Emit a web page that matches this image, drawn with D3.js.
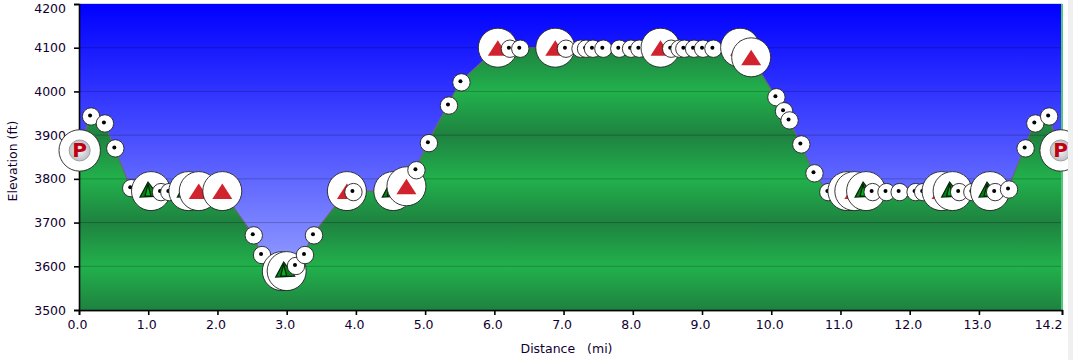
<!DOCTYPE html>
<html>
<head>
<meta charset="utf-8">
<script src="https://cdn.jsdelivr.net/npm/d3@7"></script>
<style>
  html, body { margin: 0; padding: 0; background: #fff; overflow: hidden; }
  #chart { width: 1073px; height: 360px; }
  text { font-family: "DejaVu Sans", sans-serif; font-size: 12.5px; fill: #100030; }
</style>
</head>
<body>
<div id="chart"></div>
<script>
// waypoints along the trail
const distances = [0.01, 0.16, 0.36, 0.51, 0.74, 1.04, 1.17, 1.29, 1.58, 1.73, 2.07, 2.51, 2.63, 2.93, 3.0, 3.12, 3.25, 3.38,
  3.87, 3.95, 4.54, 4.73, 4.86, 5.04, 5.33, 5.51, 6.05, 6.21, 6.36, 6.88, 7.02, 7.23, 7.31, 7.41, 7.56, 7.79, 7.96, 8.08,
  8.4, 8.54, 8.66, 8.73, 8.87, 9.0, 9.15, 9.55, 9.71, 10.06, 10.17, 10.25, 10.42, 10.61, 10.81, 11.1, 11.2, 11.37, 11.45,
  11.65, 11.84, 12.07, 12.18, 12.46, 12.62, 12.7, 12.89, 13.16, 13.22, 13.42, 13.66, 13.8, 14.0, 14.18];
const elevations = [3865, 3945, 3929, 3872, 3781, 3772, 3772, 3772, 3772, 3772, 3772, 3673, 3628, 3589, 3589, 3603, 3628, 3673,
  3772, 3772, 3772, 3783, 3822, 3884, 3970, 4023, 4100, 4100, 4100, 4100, 4100, 4100, 4100, 4100, 4100, 4100, 4100, 4100,
  4100, 4100, 4100, 4100, 4100, 4100, 4100, 4100, 4078, 3989, 3957, 3936, 3881, 3815, 3772, 3772, 3772, 3772, 3772,
  3772, 3772, 3772, 3772, 3772, 3772, 3772, 3772, 3772, 3772, 3778, 3872, 3929, 3945, 3865];
// d = dot, r = peak, t = tents, p = parking
const kinds = ["p", "d", "d", "d", "d", "t", "d", "d", "t", "r", "r", "d", "d", "t", "t", "d", "d", "d",
  "r", "d", "t", "r", "d", "d", "d", "d", "r", "d", "d", "r", "d", "d", "d", "d", "d", "d", "d", "d",
  "r", "d", "d", "d", "d", "d", "d", "r", "r", "d", "d", "d", "d", "d", "d", "r", "r", "t", "d",
  "d", "d", "d", "d", "r", "t", "d", "d", "t", "d", "d", "d", "d", "d", "p"];
const xTicks = [0, 1, 2, 3, 4, 5, 6, 7, 8, 9, 10, 11, 12, 13, 14.2];
const yTicks = [3500, 3600, 3700, 3800, 3900, 4000, 4100, 4200];

const width = 1073, height = 360;
const margin = { top: 4, right: 11, bottom: 50, left: 79 };
const points = distances.map((d, i) => ({ dist: d, elev: elevations[i], kind: kinds[i] }));

const svg = d3.select("#chart").append("svg")
  .attr("width", width)
  .attr("height", height);

const x = d3.scaleLinear().domain([0, 14.2]).range([margin.left, width - margin.right]);
const y = d3.scaleLinear().domain([3500, 4200]).range([height - margin.bottom, margin.top]);

const defs = svg.append("defs");

// sky
const sky = defs.append("linearGradient").attr("id", "sky")
  .attr("x1", 0).attr("y1", 0).attr("x2", 0).attr("y2", 1);
sky.append("stop").attr("offset", "0%").attr("stop-color", "#0000ff");
sky.append("stop").attr("offset", "100%").attr("stop-color", "#a8b4ff");

// green bands repeat every 200 ft, bright on the even hundreds
const band = y(3600) - y(3800);
const ground = defs.append("linearGradient").attr("id", "ground")
  .attr("gradientUnits", "userSpaceOnUse")
  .attr("x1", 0).attr("x2", 0)
  .attr("y1", y(3800)).attr("y2", y(3800) + band)
  .attr("spreadMethod", "repeat");
ground.append("stop").attr("offset", "0%").attr("stop-color", "#22b14c");
ground.append("stop").attr("offset", "50%").attr("stop-color", "#1e8240");
ground.append("stop").attr("offset", "100%").attr("stop-color", "#22b14c");

const badge = defs.append("radialGradient").attr("id", "badge");
badge.append("stop").attr("offset", "0%").attr("stop-color", "#f4f4f6");
badge.append("stop").attr("offset", "100%").attr("stop-color", "#bcbec4");

defs.append("clipPath").attr("id", "page")
  .append("rect").attr("width", 1068).attr("height", height);

// top rule and grey strip on the right
svg.append("line")
  .attr("x1", x(0)).attr("x2", x(14.2))
  .attr("y1", 3.5).attr("y2", 3.5)
  .attr("stroke", "#d4d8e0");
svg.append("rect").attr("x", 1068).attr("y", 0).attr("width", 5).attr("height", height).attr("fill", "#f0f0f0");

svg.append("rect")
  .attr("x", x(0)).attr("y", y(4200))
  .attr("width", x(14.2) - x(0)).attr("height", y(3500) - y(4200))
  .attr("fill", "url(#sky)");

const area = d3.area()
  .x(d => x(d.dist))
  .y0(y(3500))
  .y1(d => y(d.elev));
const line = d3.line()
  .x(d => x(d.dist))
  .y(d => y(d.elev));

const profile = [{ dist: 0, elev: elevations[0] }, ...points, { dist: 14.2, elev: elevations[elevations.length - 1] }];

svg.append("path").datum(profile)
  .attr("d", area)
  .attr("fill", "url(#ground)");
svg.append("path").datum(profile)
  .attr("d", line)
  .attr("fill", "none")
  .attr("stroke", "#6a6a6a")
  .attr("stroke-width", 1.2);

// Grid
svg.append("g").selectAll("line")
  .data(yTicks.slice(1, -1))
  .join("line")
  .attr("x1", x(0)).attr("x2", x(14.2))
  .attr("y1", d => y(d)).attr("y2", d => y(d))
  .attr("stroke", "#000")
  .attr("stroke-opacity", 0.22);

// green edge on the right of the plot
svg.append("line")
  .attr("x1", x(14.2)).attr("x2", x(14.2))
  .attr("y1", y(4200)).attr("y2", y(3500))
  .attr("stroke", "#50c878")
  .attr("stroke-width", 2);

// soft shadow under the x axis
svg.append("line")
  .attr("x1", x(0)).attr("x2", x(14.2))
  .attr("y1", y(3500) + 1.5).attr("y2", y(3500) + 1.5)
  .attr("stroke", "#c8c8c8");

// Axes
const xAxis = svg.append("g")
  .attr("transform", `translate(0,${y(3500)})`)
  .call(d3.axisBottom(x).tickValues(xTicks).tickSize(5).tickFormat(d3.format(".1f")));
const yAxis = svg.append("g")
  .attr("transform", `translate(${x(0)},0)`)
  .call(d3.axisLeft(y).tickValues(yTicks).tickSize(5).tickFormat(d3.format("d")));
xAxis.selectAll("line, path").attr("stroke", "#000").attr("stroke-width", 1.6);
yAxis.selectAll("line, path").attr("stroke", "#000").attr("stroke-width", 1.6);
xAxis.selectAll("text").attr("dy", "0.85em").attr("dx", -2);
xAxis.selectAll("text").filter(d => d === 14.2).attr("text-anchor", "end").attr("dx", 0);
yAxis.selectAll("text").attr("dx", -5);
// top label is pushed down to stay inside the page
yAxis.selectAll("text").filter(d => d === 4200).attr("dy", "0.7em");

svg.append("text")
  .attr("x", 566.5).attr("y", 353)
  .attr("text-anchor", "middle")
  .style("white-space", "pre")
  .text("Distance   (mi)");
svg.append("text")
  .attr("transform", "translate(17,161) rotate(-90)")
  .attr("text-anchor", "middle")
  .text("Elevation (ft)");

// Markers, later waypoints sit on top of earlier ones
const markers = svg.append("g").attr("clip-path", "url(#page)")
  .selectAll("g")
  .data(points)
  .join("g")
  .attr("transform", d => `translate(${x(d.dist)},${y(d.elev)})`);

markers.append("circle")
  .attr("cx", d => d.kind === "d" ? 1 : 0)
  .attr("cy", d => d.kind === "d" ? 1 : 0)
  .attr("r", d => d.kind === "d" ? 8.7 : d.kind === "p" ? 20.7 : 19.5)
  .attr("fill", "#fff")
  .attr("stroke", "#222")
  .attr("stroke-width", 0.9);

markers.filter(d => d.kind === "d").append("circle")
  .attr("r", 2)
  .attr("fill", "#000");

markers.filter(d => d.kind === "r").append("path")
  .attr("d", "M0,-7.5L10,8L-10,8Z")
  .attr("fill", "#d0232d");

const tents = markers.filter(d => d.kind === "t");
tents.append("path").attr("d", "M-3,-9L8,5L-11,6Z").attr("fill", "#0b7a18").attr("stroke", "#032c0a").attr("stroke-width", 1.2);
tents.append("path").attr("d", "M-3,-7L0,5L-6,5Z").attr("fill", "#00b01c").attr("stroke", "#021f07").attr("stroke-width", 1.2);

const parking = markers.filter(d => d.kind === "p");
parking.append("circle").attr("r", 10.5).attr("fill", "url(#badge)").attr("stroke", "#a0a0a0");
parking.append("text")
  .attr("text-anchor", "middle")
  .attr("y", 7)
  .style("font-size", "20px")
  .style("font-weight", "bold")
  .style("fill", "#c00010")
  .text("P");
</script>
</body>
</html>
